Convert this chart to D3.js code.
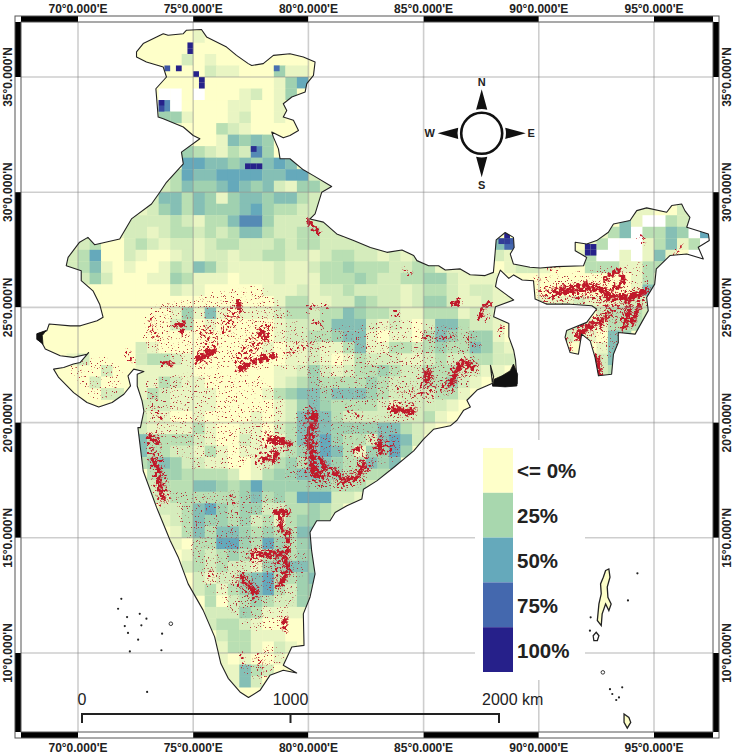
<!DOCTYPE html>
<html>
<head>
<meta charset="utf-8">
<script src="https://cdn.jsdelivr.net/npm/d3@7"></script>
<style>
  html, body { margin: 0; padding: 0; background: #fff; }
  svg { display: block; }
  text { font-family: "Liberation Sans", Arial, sans-serif; fill: #222; }
</style>
</head>
<body>
<div class="graph-container"></div>
<script>
var lonTicks = [70, 75, 80, 85, 90, 95];
var latTicks = [35, 30, 25, 20, 15, 10];
var legendValues = [0, 25, 50, 75, 100];
var legendLabels = ['<= 0%', '25%', '50%', '75%', '100%'];
var legendColors = ['#feffc9', '#a8d7ae', '#65a9bb', '#4468ae', '#26208a'];
var scaleKm = [0, 1000, 2000];

// percent for each digit used in the raster rows
var levels = [0, 6, 12, 20, 28, 38, 50, 62, 75, 100];

// half degree raster, read row by row: top latitude, west longitude, digits ('.' = no data)
var rowTop = [37, 36, 35.5, 35, 34.5, 34, 33.5, 33, 32.5, 32, 31.5, 31, 30.5, 30, 29.5, 29, 28.5, 28, 27.5, 27, 26.5, 26, 25.5, 25, 24.5, 24, 23.5, 23, 22.5, 22, 21.5, 21, 20.5, 20, 19.5, 19, 18.5, 18, 17.5, 17, 16.5, 16, 15.5, 15, 14.5, 14, 13.5, 13, 12.5, 12, 11.5, 11, 10.5, 10, 9.5, 9, 8.5,
  28, 27.5, 27,
  29.5, 29, 28.5, 28, 27.5, 27, 26.5, 26, 25.5, 25, 24.5, 24, 23.5, 23, 22.5];
var rowWest = [73.5, 72.5, 72.5, 73.5, 73.5, 73.5, 73.5, 74, 75, 74.5, 74.5, 74, 73.5, 73, 72.5, 72, 70, 69.5, 69, 69.5, 70, 70.5, 71, 71, 71, 72, 72, 69.5, 70.5, 70.5, 71, 72.5, 72.5, 72.5, 72.5, 72.5, 72.5, 73, 73, 73, 73.5, 73.5, 74, 74, 74.5, 74.5, 75, 75, 75.5, 75.5, 75.5, 76, 76, 76, 76, 76.5, 76.5,
  88, 88, 88,
  94, 93.5, 92.5, 92, 91.5, 92, 94, 94, 90, 92.5, 91, 91, 92.5, 92.5, 92.5];
var rowCells = [
  '000100',
  '00002010000000',
  '0000002110004110',
  '00000000001460',
  '..0.000120140',
  '7.0000110010',
  '441000120010',
  '100032100000',
  '00154540',
  '432132740',
  '66554545651',
  '3655666655662',
  '2354456545214421',
  '2553541455455321',
  '12453544456433221',
  '222232133577422222',
  '33012212332323553223322',
  '123002321221233222323322222',
  '12360021001212212233221233221212',
  '23510100132542111121123343332233111',
  '2420001143111011121113334322334421111',
  '0000000211000001112' + '12232222123321221',
  '000000000000000133' + '112243221244211211',
  '000000141510111233' + '23354332113331221',
  '000000230100000122' + '23555212102553221',
  '0000000000000122' + '33455101103543441',
  '0210000000001011' + '211351133234335421',
  '120000233210000000011' + '210132221123223322',
  '0200111110000000112' + '42123343223332211',
  '2000113211000000123' + '433334322233421',
  '220132111100001345' + '54555432222331',
  '222111100000124' + '5433332122221',
  '211001000010125' + '553222222231',
  '211113100110235' + '55444455321',
  '533332100210135' + '5643325652',
  '533221310111234' + '565314464',
  '345422110012343' + '55433545',
  '34433332013445' + '5443333',
  '23335543464444' + '443332',
  '22333333453436' + '662211',
  '2235643442233' + '432',
  '1235443423134' + '431',
  '135355434335' + '5',
  '103366436434' + '5',
  '132343134344',
  '232322144554',
  '21224563345',
  '23134563244',
  '302343224',
  '222431111',
  '233210000',
  '23311100',
  '13310210',
  '1010010',
  '115320',
  '1520',
  '000',
  '583',
  '211',
  '01221',
  '110023',
  '51..3230',
  '135.3354.60',
  '13...13513.',
  '13..1.1510..',
  '333113300',
  '131',
  '153',
  '1112111222',
  '23332',
  '2211333',
  '211054',
  '155',
  '253',
  '23'
];

// quarter degree cells that stand out from the half degree rows
var fineLon = [74.75, 74.75, 74.25, 73.75, 75, 75.25, 75.25, 78.5, 73.5, 73.5, 77.5, 77.25, 77.5, 77.75, 92, 92.25, 92, 92.25, 88.25, 88.5, 88.75, 88.5];
var fineLat = [36.25, 36, 35.25, 35.25, 35, 34.75, 34.5, 35.25, 33.75, 33.5, 31.75, 31, 31, 31, 27.5, 27.5, 27.25, 27.25, 27.75, 27.75, 27.75, 28];
var fineVal = [100, 100, 100, 82, 100, 100, 100, 72, 100, 85, 95, 100, 100, 100, 100, 100, 100, 100, 90, 90, 80, 100];

var indiaOutline = [
  [72.54, 36.09], [72.83, 36.45], [73.7, 36.88], [73.91, 36.81], [74.57, 36.88], [74.71, 37.03], [75.36, 37.06], [75.58, 36.74],
  [76.45, 36.3], [76.88, 35.94], [77.39, 35.58], [77.54, 35.5], [78.04, 35.58], [78.48, 35.94], [79.2, 36.01], [79.78, 35.87],
  [80.29, 35.65], [80.22, 35.07], [79.93, 34.71], [79.86, 34.35], [79.28, 34.13], [78.91, 33.84], [79.06, 33.55], [78.91, 33.26],
  [79.35, 33.12], [79.57, 32.68], [79.2, 32.46], [78.91, 32.36], [78.41, 32.61], [78.48, 32.39], [78.7, 31.88], [78.77, 31.45],
  [79.2, 31.45], [79.78, 30.97], [80.22, 30.72], [81.01, 30.25], [80.58, 30], [80.29, 29.06], [80.07, 28.84], [80.65, 28.7],
  [81.23, 28.19], [81.96, 27.9], [82.69, 27.6], [83.41, 27.39], [84.06, 27.49], [84.57, 27.25], [84.71, 27.03], [85.22, 26.81],
  [85.65, 26.81], [85.94, 26.62], [86.59, 26.67], [87.02, 26.42], [87.67, 26.38], [88.03, 26.52], [88.1, 27.32], [88.15, 27.93],
  [88.54, 28.25], [88.9, 28.04], [88.93, 27.6], [88.76, 27.32], [88.9, 26.88], [89.62, 26.74], [90.06, 26.71], [90.78, 26.77],
  [91.94, 26.81], [92.08, 27.17], [91.58, 27.46], [91.58, 27.83], [92.08, 27.75], [92.51, 27.9], [93.02, 28.26], [93.24, 28.62],
  [93.96, 28.77], [94.25, 29.2], [94.68, 29.32], [95.55, 29.13], [95.77, 29.42], [96.2, 29.49], [96.34, 29.2], [96.56, 28.91],
  [96.42, 28.48], [97.36, 28.19], [97.4, 27.9], [96.92, 27.61], [97.14, 27.1], [96.42, 27.32], [95.69, 27.25], [95.1, 26.67],
  [95.03, 26.01], [94.68, 25.43], [94.75, 24.86], [94.18, 23.84], [93.45, 23.91], [93.45, 23.48], [93.24, 22.97], [93.16, 22.1],
  [92.59, 22.03], [92.44, 22.83], [92.23, 23.55], [91.86, 23.84], [91.72, 22.97], [91.36, 23.04], [91.14, 23.7], [91.21, 24],
  [92.08, 24.35], [92.51, 24.93], [92.3, 25.07], [91.36, 25.14], [90.35, 25.14], [89.84, 25.36], [89.77, 26.16], [89.28, 26.19],
  [88.91, 26.41], [88.7, 26.26], [88.33, 26.62], [88.19, 26.26], [88.12, 25.9], [88.91, 25.32], [88.12, 25.03], [88.04, 24.59],
  [88.7, 24.3], [88.7, 23.72], [88.91, 23.14], [88.99, 22.71], [89.06, 21.7], [88, 21.59], [87.9, 22.49], [88.04, 21.99],
  [87.97, 21.7], [87.32, 21.41], [86.88, 20.97], [87.03, 20.68], [86.74, 20.54], [86.45, 20.1], [86.16, 19.86], [85.43, 19.71],
  [85, 19.28], [84.57, 18.77], [83.7, 18.05], [82.97, 17.47], [82.39, 17.11], [82.32, 16.68], [81.67, 16.39], [81.16, 16.1],
  [80.94, 15.74], [80.36, 15.74], [80.07, 15.24], [80.14, 14.44], [80.29, 13.43], [80.07, 12.42], [79.78, 11.7], [79.81, 10.33],
  [79.28, 10.26], [78.91, 9.47], [79.49, 9.13], [78.91, 9.25], [78.33, 9.03], [77.9, 8.38], [77.4, 8.07], [77.03, 8.31],
  [76.52, 8.9], [76.2, 9.54], [75.93, 10.7], [75.43, 11.86], [74.78, 13], [74.35, 14.16], [74, 14.88], [73.41, 16.32],
  [72.83, 17.9], [72.6, 19.78], [72.71, 19.78], [72.86, 20.5], [72.78, 20.94], [72.57, 21.59], [72.57, 22.1], [72.86, 22.22],
  [72.42, 22.32], [72.17, 22.03], [72.28, 21.59], [71.99, 21.23], [71.48, 20.87], [70.9, 20.68], [70.39, 20.87], [69.81, 21.3],
  [69.16, 21.96], [68.94, 22.32], [69.38, 22.39], [69.8, 22.54], [70.1, 22.61], [70.46, 23.04], [70.39, 22.97], [69.8, 22.83],
  [69.23, 22.9], [68.58, 23.19], [68.43, 23.48], [68.22, 23.62], [68.22, 23.84], [68.65, 23.99], [68.75, 24.28], [69.67, 24.2],
  [70.1, 24.2], [70.83, 24.42], [71.09, 24.57], [70.94, 25.14], [70.65, 25.72], [70.14, 26.16], [70.14, 26.59], [69.49, 26.81],
  [69.57, 27.17], [70.07, 27.83], [70.43, 28.04], [70.72, 27.72], [71.81, 27.97], [72.32, 28.84], [73.19, 29.49], [73.55, 30],
  [73.84, 30.43], [74.57, 31.23], [74.49, 31.74], [75.29, 32.32], [75, 32.46], [74.57, 32.83], [73.7, 33.19], [73.48, 33.26],
  [73.38, 34.49], [73.84, 35], [73.7, 35.43], [72.97, 35.65], [72.54, 35.87]
];

// mangrove coast drawn solid black
var blackPatches = [
  [[88, 21.59], [88.06, 21.88], [88.4, 22.03], [88.76, 22.25], [88.9, 22.54], [89.08, 22.1], [89.05, 21.59], [88.54, 21.55]],
  [[68.22, 23.62], [68.22, 23.86], [68.62, 24], [68.45, 23.78], [68.48, 23.4]]
];

// forest loss hot spots: wide broken clusters, then thick, medium and thin strokes
var redZones = [
  [[80.2, 20.4], [80.2, 18], [80.6, 17.6]],
  [[80.9, 17.9], [81.6, 17.4], [82.3, 17.7], [82.6, 18.3]],
  [[83, 19.3], [83.5, 18.9]],
  [[85.2, 22.1], [85.3, 21.5]],
  [[86.1, 21.6], [86.6, 22.4], [87.2, 22.4]],
  [[90.5, 25.6], [91.5, 25.7], [92.7, 25.7], [93.3, 25.3], [94.5, 25.5]],
  [[93.7, 25.3], [94, 24.4]],
  [[91.8, 23.9], [92.7, 24.3], [93.2, 24.9]],
  [[75.4, 22.7], [75.9, 23.4], [75.6, 23.9]],
  [[77.2, 22.8], [77.9, 23.6], [78.3, 24.1]],
  [[76.5, 24.1], [76.9, 24.9]],
  [[73.3, 19.3], [73.6, 17.6], [73.8, 16.7]],
  [[77.7, 14.2], [79, 14.2], [78.8, 13.1]],
  [[77.1, 13.2], [77.7, 12.6]],
  [[78.3, 19.2], [79, 19.1]],
  [[78, 18.4], [78.6, 18.5]],
  [[83.8, 20.6], [84.5, 20.5]]
];
var redThick = [
  [[80.3, 20.3], [80.16, 19.94], [80.09, 19.22], [80.2, 18.64], [80.23, 17.91], [80.59, 17.7]],
  [[77.04, 22.33], [77.62, 22.62], [78.49, 22.91]],
  [[75.23, 22.77], [75.88, 23.13]],
  [[78.35, 19.22], [78.78, 19.22]],
  [[90.77, 25.72], [91.49, 25.8], [92.07, 25.94], [92.72, 25.8], [93.09, 25.43], [93.81, 25.43], [94.68, 25.7]],
  [[91.71, 23.7], [92, 24.13]],
  [[92.51, 22.83], [92.65, 22.1]],
  [[78.64, 16.1], [79.07, 16.1]],
  [[85.22, 22.13], [85.14, 21.84]],
  [[86.38, 25.17], [86.5, 25.2]]
];
var redMid = [
  [[80.52, 18.49], [80.74, 17.99]],
  [[77.99, 18.42], [78.49, 18.42], [78.64, 18.71]],
  [[79.22, 19.07], [78.78, 19.22]],
  [[78.78, 16.1], [78.86, 15.3]],
  [[73.13, 19.43], [73.49, 19.14]],
  [[73.28, 18.42], [73.57, 17.77], [73.49, 17.33], [73.71, 16.75]],
  [[81.1, 17.91], [81.54, 17.48], [82.12, 17.62], [82.41, 18.2]],
  [[83.13, 19.22], [83.13, 18.71]],
  [[81.97, 18.78], [82.26, 18.86]],
  [[77.61, 14.3], [78.91, 14.3], [79.2, 13.58], [78.77, 13]],
  [[77.17, 13.29], [77.75, 12.57]],
  [[79.13, 15.31], [79.13, 14.44]],
  [[78.99, 11.49], [78.99, 10.98]],
  [[74.22, 24.22], [74.58, 24.29], [74.51, 23.86]],
  [[77.84, 24], [78.2, 23.64]],
  [[76.97, 25.3], [77.04, 24.87]],
  [[73.71, 22.55], [74.14, 22.55]],
  [[80.01, 28.71], [80.45, 28.2]],
  [[86.16, 21.7], [86.74, 22.71], [87.17, 22.42]],
  [[87.46, 24.59], [87.61, 25.03], [87.9, 25.17]],
  [[92.87, 26.23], [93.45, 26.59], [93.74, 26.16], [93.16, 25.72]],
  [[93.81, 25.29], [93.96, 25], [93.67, 24.06]],
  [[92, 24.13], [92.65, 24.35], [93.09, 24.71]],
  [[94.1, 24.4], [94.4, 25.1]],
  [[83.55, 20.61], [84.57, 20.46]]
];
var redThin = [
  [[73.28, 24.58], [73.2, 24], [73.57, 23.71]],
  [[72.19, 23.06], [72.48, 22.7]],
  [[79.07, 22.99], [80.09, 23.41]],
  [[80.36, 24.38], [80.65, 24.23]],
  [[79.64, 23.43], [80.22, 23.43]],
  [[80.07, 24.96], [80.87, 25.06]],
  [[83.7, 24.74], [83.99, 24.74]],
  [[85, 23.72], [86.45, 23.72]],
  [[87.03, 23.65], [87.46, 23.29]],
  [[87.75, 24.45], [87.9, 24.6]],
  [[88.48, 24.16], [88.4, 23.87]],
  [[83.99, 21.41], [85.43, 21.13]],
  [[81.81, 20.68], [82.39, 20.39]],
  [[80.07, 20.68], [80.36, 19.96]],
  [[84.28, 26.62], [84.5, 26.55]],
  [[81.97, 20.52], [82.33, 20.38]],
  [[77.9, 9.83], [78.04, 9.4]],
  [[77.17, 9.97], [77.25, 9.68]],
  [[76.74, 16.83], [76.88, 16.6]],
  [[75.8, 13.58], [75.87, 13.29]],
  [[90.04, 25.72], [90.77, 25.43]],
  [[90.48, 26.74], [90.91, 26.67]],
  [[89.97, 26.23], [90.05, 26.15]],
  [[94.46, 28.04], [94.61, 27.9]],
  [[95.7, 26.88], [96.28, 27.68]],
  [[91.3, 23.6], [91.45, 23.2]],
  [[91.2, 25.5], [92.6, 25.35], [93.3, 25.1]],
  [[93.3, 24.6], [94, 24.3]],
  [[73.3, 20.6], [73.7, 20.2]],
  [[73.2, 21.2], [73.5, 21]]
];

// areas with thin scatter of red pixels
var stippleZones = [
  [[69.5, 22.4], [71.2, 22.9], [72, 22.3], [71.8, 21.3], [70.8, 20.9]],
  [[72.9, 21.8], [75, 22.2], [78, 22], [79, 21], [79, 19.5], [77, 18], [75, 18], [73, 20]],
  [[73, 25], [78, 26], [80, 24], [80, 22.3], [75, 22.3], [72.8, 23.3]],
  [[80, 24], [84, 24.5], [87.5, 24], [87, 21.5], [84.5, 20.5], [80, 21]],
  [[74, 17], [79, 17], [80, 14], [79, 11], [77.4, 11], [75.5, 13]],
  [[79.5, 20.5], [84, 20.3], [84, 18.5], [81, 17], [79, 17.5]],
  [[90, 26.3], [94.7, 27], [95, 25.5], [94, 23.8], [92.6, 22], [91.5, 24], [90, 25.2]],
  [[77, 9.3], [78.6, 10.6], [79, 9.8], [78, 8.6]]
];

var andamanLines = [
  [[92.9, 13.58], [93.04, 13.65], [93.09, 13.29], [92.97, 12.86], [93, 12.42], [93.14, 12.13], [93.04, 11.84], [92.9, 12.13], [92.75, 11.7], [92.71, 11.19], [92.54, 11.41], [92.61, 12.13], [92.71, 12.57], [92.68, 13], [92.8, 13.29]],
  [[92.49, 10.9], [92.61, 10.75], [92.54, 10.54], [92.39, 10.54], [92.36, 10.75]],
  [[93.7, 7.35], [93.91, 7.2], [93.99, 6.99], [93.84, 6.74], [93.7, 6.99]]
];
var islandDots = [[71.88, 12.35], [71.74, 11.92], [72.13, 11.56], [72.03, 11.17], [72.17, 10.87], [72.75, 11.2], [72.68, 11.7], [72.97, 11.49], [72.61, 10.58], [72.25, 10.07], [73.62, 10.12], [73.65, 10.84], [73, 8.31], [93.09, 8.43], [93.19, 8.22], [93.62, 8.51], [93.48, 8.07], [93.36, 7.96], [94.28, 13.46], [93.87, 12.28], [92.25, 11.55], [92.22, 10.97]];
var islandRings = [[74.03, 11.27], [92.78, 9.16]];

var svgWidth = 733;
var svgHeight = 755;

var xScale = d3.scaleLinear().domain([70, 95]).range([78, 654]);
var yScale = d3.scaleLinear().domain([35, 10]).range([77, 653]);

var frameLeft = 21, frameRight = 713, frameTop = 22, frameBottom = 732, bandSize = 6;

var colorScale = d3.scaleLinear().domain(legendValues).range(legendColors).clamp(true);

var svg = d3.select('.graph-container').append('svg')
  .attr('width', svgWidth)
  .attr('height', svgHeight);

var defs = svg.append('defs');

var geoLine = d3.line()
  .x(function(d) { return xScale(d[0]); })
  .y(function(d) { return yScale(d[1]); });

function closedPath(pts) {
  return geoLine(pts) + 'Z';
}

defs.append('clipPath').attr('id', 'india-clip')
  .append('path').attr('d', closedPath(indiaOutline));

var soften = defs.append('filter').attr('id', 'soften');
soften.append('feGaussianBlur').attr('stdDeviation', 0.55);

// breaks a red shape into flecks: noise moves the edges, thresholded noise cuts holes
function speckleFilter(id, freq, seed, moveBy, gain, cut) {
  var f = defs.append('filter')
    .attr('id', id)
    .attr('filterUnits', 'userSpaceOnUse')
    .attr('x', 0).attr('y', 0)
    .attr('width', svgWidth).attr('height', svgHeight)
    .attr('color-interpolation-filters', 'sRGB');
  f.append('feTurbulence')
    .attr('type', 'fractalNoise')
    .attr('baseFrequency', freq)
    .attr('numOctaves', 2)
    .attr('seed', seed)
    .attr('result', 'noise');
  f.append('feDisplacementMap')
    .attr('in', 'SourceGraphic')
    .attr('in2', 'noise')
    .attr('scale', moveBy)
    .attr('xChannelSelector', 'R')
    .attr('yChannelSelector', 'G')
    .attr('result', 'moved');
  f.append('feColorMatrix')
    .attr('in', 'noise')
    .attr('type', 'matrix')
    .attr('values', '0 0 0 0 0  0 0 0 0 0  0 0 0 0 0  ' + gain + ' 0 0 0 ' + cut)
    .attr('result', 'mask');
  f.append('feComposite')
    .attr('in', 'moved')
    .attr('in2', 'mask')
    .attr('operator', 'in');
  f.append('feGaussianBlur').attr('stdDeviation', 0.3);
}
speckleFilter('speck-solid', 0.3, 3, 9, 8, -2.6);
speckleFilter('speck-cluster', 0.4, 7, 14, 10, -5.3);
speckleFilter('speck-thin', 0.8, 11, 5, 16, -10.6);

// map group
var map = svg.append('g').attr('clip-path', 'url(#india-clip)');
var mapInner = map.append('g').attr('filter', 'url(#soften)');

mapInner.append('path')
  .attr('d', closedPath(indiaOutline))
  .attr('fill', legendColors[0]);

// build cell list from the rows
var cells = [];
rowCells.forEach(function(row, r) {
  row.split('').forEach(function(c, i) {
    cells.push({ lon: rowWest[r] + i * 0.5, lat: rowTop[r], size: 0.5, code: c });
  });
});

mapInner.selectAll('rect.cell')
  .data(cells)
  .enter()
  .append('rect')
  .attr('class', 'cell')
  .attr('x', function(d) { return xScale(d.lon); })
  .attr('y', function(d) { return yScale(d.lat); })
  .attr('width', xScale(0.5) - xScale(0) + 0.3)
  .attr('height', yScale(0) - yScale(0.5) + 0.3)
  .attr('fill', function(d) {
    return d.code === '.' ? '#ffffff' : colorScale(levels[+d.code]);
  });

mapInner.selectAll('rect.fine')
  .data(fineLon)
  .enter()
  .append('rect')
  .attr('class', 'fine')
  .attr('x', function(d) { return xScale(d); })
  .attr('y', function(d, i) { return yScale(fineLat[i] + 0.25); })
  .attr('width', xScale(0.25) - xScale(0))
  .attr('height', yScale(0) - yScale(0.25))
  .attr('fill', function(d, i) { return colorScale(fineVal[i]); });

// red overlay
var redColor = '#c01a2a';

map.append('g')
  .attr('filter', 'url(#speck-thin)')
  .selectAll('path')
  .data(stippleZones)
  .enter()
  .append('path')
  .attr('d', closedPath)
  .attr('fill', '#b5323a');

function drawRed(list, width, filterId) {
  map.append('g')
    .attr('filter', 'url(#' + filterId + ')')
    .selectAll('path')
    .data(list)
    .enter()
    .append('path')
    .attr('d', geoLine)
    .attr('fill', 'none')
    .attr('stroke', redColor)
    .attr('stroke-width', width)
    .attr('stroke-linecap', 'round')
    .attr('stroke-linejoin', 'round');
}
drawRed(redThin, 5, 'speck-cluster');
drawRed(redZones, 15, 'speck-cluster');
drawRed(redMid, 5, 'speck-solid');
drawRed(redThick, 7, 'speck-solid');

// grid lines go over the map, semi transparent
var grid = svg.append('g')
  .attr('stroke', '#8a8a8a')
  .attr('stroke-opacity', 0.42)
  .attr('stroke-width', 1.6);
grid.selectAll('line.v').data(lonTicks).enter().append('line')
  .attr('class', 'v')
  .attr('x1', function(d) { return xScale(d); })
  .attr('x2', function(d) { return xScale(d); })
  .attr('y1', frameTop)
  .attr('y2', frameBottom);
grid.selectAll('line.h').data(latTicks).enter().append('line')
  .attr('class', 'h')
  .attr('x1', frameLeft)
  .attr('x2', frameRight)
  .attr('y1', function(d) { return yScale(d); })
  .attr('y2', function(d) { return yScale(d); });

// outlines
svg.append('path')
  .attr('d', closedPath(indiaOutline))
  .attr('fill', 'none')
  .attr('stroke', '#222')
  .attr('stroke-width', 1.1)
  .attr('stroke-linejoin', 'round');

svg.selectAll('path.black')
  .data(blackPatches)
  .enter()
  .append('path')
  .attr('class', 'black')
  .attr('d', closedPath)
  .attr('fill', '#111')
  .attr('stroke', '#111')
  .attr('stroke-width', 0.8);

svg.selectAll('path.island')
  .data(andamanLines)
  .enter()
  .append('path')
  .attr('class', 'island')
  .attr('d', closedPath)
  .attr('fill', function(d, i) { return i === 1 ? '#fff' : legendColors[0]; })
  .attr('stroke', '#222')
  .attr('stroke-width', 1.3);

svg.selectAll('circle.dot')
  .data(islandDots)
  .enter()
  .append('circle')
  .attr('class', 'dot')
  .attr('cx', function(d) { return xScale(d[0]); })
  .attr('cy', function(d) { return yScale(d[1]); })
  .attr('r', 1.1)
  .attr('fill', '#222');

svg.selectAll('circle.ring')
  .data(islandRings)
  .enter()
  .append('circle')
  .attr('class', 'ring')
  .attr('cx', function(d) { return xScale(d[0]); })
  .attr('cy', function(d) { return yScale(d[1]); })
  .attr('r', 1.8)
  .attr('fill', '#fff')
  .attr('stroke', '#222')
  .attr('stroke-width', 0.9);

// legend, has a white box behind it that cuts the grid lines
svg.append('rect')
  .attr('x', 475)
  .attr('y', 440)
  .attr('width', 110)
  .attr('height', 240)
  .attr('fill', '#fff');

var legendY = d3.scaleBand().domain(legendLabels).range([448, 672]);
svg.selectAll('rect.swatch')
  .data(legendLabels)
  .enter()
  .append('rect')
  .attr('class', 'swatch')
  .attr('x', 483)
  .attr('y', function(d) { return legendY(d); })
  .attr('width', 30)
  .attr('height', legendY.bandwidth())
  .attr('fill', function(d, i) { return legendColors[i]; });
svg.selectAll('text.legend-label')
  .data(legendLabels)
  .enter()
  .append('text')
  .attr('class', 'legend-label')
  .attr('x', 517)
  .attr('y', function(d) { return legendY(d) + legendY.bandwidth() / 2 + 8; })
  .style('font-size', '20.5px')
  .style('font-weight', 'bold')
  .text(function(d) { return d; });

// frame bands
var xEdges = [frameLeft].concat(lonTicks.map(xScale), [frameRight]);
var yEdges = [frameTop].concat(latTicks.map(yScale), [frameBottom]);
var frame = svg.append('g');
d3.range(xEdges.length - 1).forEach(function(i) {
  [frameTop - bandSize, frameBottom].forEach(function(y) {
    frame.append('rect')
      .attr('x', xEdges[i]).attr('y', y)
      .attr('width', xEdges[i + 1] - xEdges[i]).attr('height', bandSize)
      .attr('fill', i % 2 === 0 ? '#000' : '#fff');
  });
});
d3.range(yEdges.length - 1).forEach(function(i) {
  [frameLeft - bandSize, frameRight].forEach(function(x) {
    frame.append('rect')
      .attr('x', x).attr('y', yEdges[i])
      .attr('width', bandSize).attr('height', yEdges[i + 1] - yEdges[i])
      .attr('fill', i % 2 === 0 ? '#000' : '#fff');
  });
});
frame.append('rect')
  .attr('x', frameLeft - bandSize)
  .attr('y', frameTop - bandSize)
  .attr('width', frameRight - frameLeft + bandSize * 2)
  .attr('height', frameBottom - frameTop + bandSize * 2)
  .attr('fill', 'none')
  .attr('stroke', '#555')
  .attr('stroke-width', 1);
frame.append('rect')
  .attr('x', frameLeft)
  .attr('y', frameTop)
  .attr('width', frameRight - frameLeft)
  .attr('height', frameBottom - frameTop)
  .attr('fill', 'none')
  .attr('stroke', '#555')
  .attr('stroke-width', 1);

// tick labels on all four sides
function lonText(d) { return d + "°0.000'E"; }
function latText(d) { return d + "°0.000'N"; }

[13, 752].forEach(function(y) {
  svg.selectAll('text.lon' + y)
    .data(lonTicks)
    .enter()
    .append('text')
    .attr('class', 'lon' + y)
    .attr('x', function(d) { return xScale(d); })
    .attr('y', y)
    .style('text-anchor', 'middle')
    .style('font-size', '12px')
    .style('font-weight', 'bold')
    .text(lonText);
});
[12, 730.5].forEach(function(x) {
  svg.selectAll('text.lat' + Math.round(x))
    .data(latTicks)
    .enter()
    .append('text')
    .attr('class', 'lat' + Math.round(x))
    .attr('transform', function(d) { return 'translate(' + x + ',' + yScale(d) + ') rotate(-90)'; })
    .style('text-anchor', 'middle')
    .style('font-size', '12px')
    .style('font-weight', 'bold')
    .text(latText);
});

// scale bar
var kmScale = d3.scaleLinear().domain([0, 2000]).range([82, 499]);
svg.append('line')
  .attr('x1', kmScale(0)).attr('x2', kmScale(2000))
  .attr('y1', 714).attr('y2', 714)
  .attr('stroke', '#222').attr('stroke-width', 2);
svg.selectAll('line.km')
  .data(scaleKm)
  .enter()
  .append('line')
  .attr('class', 'km')
  .attr('x1', function(d) { return kmScale(d); })
  .attr('x2', function(d) { return kmScale(d); })
  .attr('y1', 713)
  .attr('y2', 723)
  .attr('stroke', '#222')
  .attr('stroke-width', 2);
svg.selectAll('text.km')
  .data(scaleKm)
  .enter()
  .append('text')
  .attr('class', 'km')
  .attr('x', function(d) { return d === 2000 ? 482 : kmScale(d); })
  .attr('y', 705)
  .style('text-anchor', function(d) { return d === 2000 ? 'start' : 'middle'; })
  .style('font-size', '16px')
  .text(function(d) { return d === 2000 ? '2000 km' : d; });

// north arrow
var compass = svg.append('g').attr('transform', 'translate(481.7,133.3)');
compass.append('circle')
  .attr('r', 20.5)
  .attr('fill', '#fff')
  .attr('stroke', '#111')
  .attr('stroke-width', 2.6);
[0, 90, 180, 270].forEach(function(a) {
  compass.append('path')
    .attr('d', 'M0,-44 L5.6,-23.5 Q0,-25 -5.6,-23.5 Z')
    .attr('transform', 'rotate(' + a + ')')
    .attr('fill', '#111');
});
var compassLetters = [['N', 0, -47], ['E', 49.5, 4], ['S', 0, 56], ['W', -52, 4]];
compass.selectAll('text')
  .data(compassLetters)
  .enter()
  .append('text')
  .attr('x', function(d) { return d[1]; })
  .attr('y', function(d) { return d[2]; })
  .style('text-anchor', 'middle')
  .style('font-size', '11px')
  .style('font-weight', 'bold')
  .text(function(d) { return d[0]; });
</script>
</body>
</html>
